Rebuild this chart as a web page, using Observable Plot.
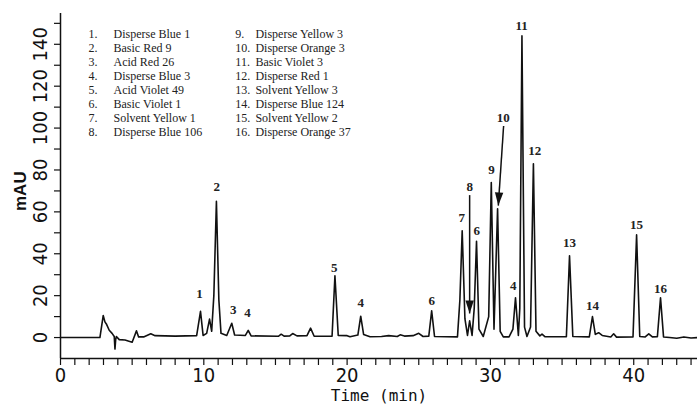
<!DOCTYPE html>
<html><head><meta charset="utf-8">
<script src="https://cdn.jsdelivr.net/npm/d3@7"></script>
<script src="https://cdn.jsdelivr.net/npm/@observablehq/plot@0.6"></script>
<style>body{margin:0;background:#fff}</style>
</head><body><div id="chart"></div>
<script>
// Chromatogram trace: time (min) and absorbance (mAU)
const traceTime = [0, 2.75, 2.98, 3.1, 3.2, 3.4, 3.6, 3.75, 3.8, 3.85, 3.9, 4.1, 4.5, 5.0, 5.3, 5.45, 5.8, 6.3, 6.6, 8.0, 9.5,
  9.77, 9.95, 10.2, 10.4, 10.55, 10.7, 10.88, 11.05, 11.2, 11.6, 11.95, 12.15, 12.9, 13.1, 13.3,
  15.2, 15.4, 15.6, 16.0, 16.2, 16.5, 17.2, 17.45, 17.7, 18.95, 19.15, 19.38, 20.0, 20.2, 20.75, 20.95, 21.15, 21.6,
  22.4, 22.9, 23.5, 23.7, 24.0, 24.6, 25.0, 25.3, 25.7, 25.9, 26.1, 27.7,
  27.87, 28.03, 28.22, 28.4, 28.55, 28.72, 28.87, 29.03, 29.2, 29.5,
  29.88, 30.06, 30.25, 30.5, 30.68, 30.9, 31.3, 31.57, 31.75, 31.95, 32.05, 32.2, 32.38, 32.55, 32.8, 33.0, 33.18, 33.45, 33.6, 33.8,
  35.3, 35.52, 35.75, 36.9, 37.12, 37.32, 37.55, 37.8, 38.4, 38.6, 38.8, 39.95, 40.2, 40.42, 40.8, 41.05, 41.3, 41.65, 41.87, 42.08,
  42.5, 43.0, 43.5, 44.0, 44.45];
const traceMAU = [0, 0, 10.5, 7.5, 6.5, 3.5, 2, 0.5, -5.5, -1, 0.5, -1, -1.2, -2.2, 3.2, 0.3, 0.3, 1.8, 0.9, 0.7, 0.9,
  12.5, 1, 2, 8.8, 3, 20, 65, 18, 2, 1, 6.8, 1.2, 1, 3.4, 0.8,
  0.6, 1.6, 0.7, 0.8, 1.9, 0.8, 0.9, 4.5, 0.6, 0.6, 29.5, 1.0, 0.9, 0.4, 1.2, 10.2, 1.5, 0.4,
  0.5, 0.9, 0.5, 1.3, 0.7, 0.9, 2, 0.5, 0.7, 12.8, 0.5, 0.3,
  18, 51, 9, 1, 8, 1, 14, 46, 4, 0.5,
  10, 74, 4, 61.5, 3, 0.3, 0.3, 4, 19, 1, 14, 144, 5, 0.5, 5, 83, 3, 0.8, 1.6, 0.4,
  0.4, 39, 0.5, 0.3, 10, 1.5, 2.3, 1, 0.3, 1.8, 0.2, 0.3, 49, 0.5, 0.3, 1.8, 0.3, 0.4, 19, 0.3,
  0, -0.3, 0.3, -0.2, 0];

// Peak numbers and where their labels sit (time, mAU)
const peakIds = ["1", "2", "3", "4", "5", "4", "6", "7", "8", "6", "9", "10", "4", "11", "12", "13", "14", "15", "16"];
const peakLabelTime = [9.7, 10.9, 12.05, 13.05, 19.1, 20.95, 25.9, 28.0, 28.55, 29.05, 30.08, 30.9, 31.6, 32.17, 33.1, 35.52, 37.12, 40.2, 41.87];
const peakLabelMAU = [21, 72, 13, 12, 33.4, 16.7, 17.7, 57, 72, 51, 80, 105, 24.8, 149, 89, 45, 15.3, 54, 23.4];

// Arrows for peaks 8 and 10 (start, tip, and head tilt in degrees)
const arrowFromTime = [28.55, 30.92];
const arrowFromMAU = [68, 101];
const arrowToTime = [28.55, 30.55];
const arrowToMAU = [11.5, 63];
const arrowTilt = [0, 3.5];

// Compound list
const legendNums = ["1.", "2.", "3.", "4.", "5.", "6.", "7.", "8.", "9.", "10.", "11.", "12.", "13.", "14.", "15.", "16."];
const legendNames = ["Disperse Blue 1", "Basic Red 9", "Acid Red 26", "Disperse Blue 3", "Acid Violet 49", "Basic Violet 1",
  "Solvent Yellow 1", "Disperse Blue 106", "Disperse Yellow 3", "Disperse Orange 3", "Basic Violet 3", "Disperse Red 1",
  "Solvent Yellow 3", "Disperse Blue 124", "Solvent Yellow 2", "Disperse Orange 37"];

// Axis ticks
const xTicks = d3.range(0, 45, 1);
const xTickLabels = [0, 10, 20, 30, 40];
const yTicks = d3.range(0, 151, 10);
const yTickLabels = [0, 20, 40, 60, 80, 100, 120, 140];

const trace = traceTime.map((t, i) => ({t, v: traceMAU[i]}));
const peaks = peakIds.map((id, i) => ({id, t: peakLabelTime[i], v: peakLabelMAU[i]}));
const arrows = arrowFromTime.map((x1, i) => ({
  x1, y1: arrowFromMAU[i], x2: arrowToTime[i], y2: arrowToMAU[i], tilt: arrowTilt[i]
}));
const legend = legendNames.map((name, i) => ({num: legendNums[i], name, col: i < 8 ? 0 : 1, row: i % 8}));
const legendTop = 144.7, legendStep = 6.69;

// filled arrowhead with its tip at the origin, pointing down
const arrowHead = {draw(ctx) { ctx.moveTo(0, 0); ctx.lineTo(-4.2, -13); ctx.lineTo(4.2, -13); ctx.closePath(); }};

const narrow = "'Liberation Sans Narrow', 'DejaVu Sans Condensed', 'Liberation Sans', sans-serif";
const serif = "'Liberation Serif', 'DejaVu Serif', serif";

const chart = Plot.plot({
  width: 697, height: 408,
  marginLeft: 60, marginRight: 0, marginTop: 13, marginBottom: 50,
  x: {domain: [0, 44.45]},
  y: {domain: [-10, 154.7]},
  style: {background: "white", color: "#111"},
  marks: [
    Plot.axisX({ticks: xTicks, tickSize: 7, tickPadding: 2, tickFormat: d => xTickLabels.includes(d) ? String(d) : "",
      label: null, fontSize: 20, fontFamily: narrow, strokeWidth: 1.2}),
    Plot.axisY({ticks: yTicks, tickSize: 6, tickPadding: 8, tickRotate: -90, tickFormat: d => yTickLabels.includes(d) ? String(d) : "",
      label: null, fontSize: 20, fontFamily: narrow, strokeWidth: 1.2}),
    Plot.ruleY([-10], {stroke: "#111", strokeWidth: 1.5}),
    Plot.ruleX([0], {y1: -10, y2: 154.7, stroke: "#111", strokeWidth: 1.5}),
    Plot.line(trace, {x: "t", y: "v", stroke: "#111", strokeWidth: 1.6}),
    Plot.text(peaks, {x: "t", y: "v", text: "id", fontSize: 13, fontWeight: "bold", fontFamily: serif, fill: "#222"}),
    Plot.link(arrows, {x1: "x1", y1: "y1", x2: "x2", y2: "y2", stroke: "#111", strokeWidth: 1.5}),
    Plot.dot(arrows, {x: "x2", y: "y2", symbol: arrowHead, fill: "#111", stroke: "none", rotate: "tilt"}),
    Plot.text(legend, {x: d => d.col ? 12.2 : 1.95, y: d => legendTop - d.row * legendStep, text: "num",
      textAnchor: "start", fontSize: 12, fontFamily: serif, fill: "#222"}),
    Plot.text(legend, {x: d => d.col ? 13.6 : 3.7, y: d => legendTop - d.row * legendStep, text: "name",
      textAnchor: "start", fontSize: 12, fontFamily: serif, fill: "#222"}),
    Plot.text(["Time (min)"], {frameAnchor: "bottom", dy: 42, fontSize: 16, fontFamily: "'DejaVu Sans Mono', monospace", fill: "#111"}),
    Plot.text(["mAU"], {frameAnchor: "left", dx: -40, dy: 25, rotate: -90, fontSize: 17, fontWeight: "bold", fontFamily: "'Liberation Sans', Arial, sans-serif", fill: "#111"})
  ]
});
document.getElementById("chart").appendChild(chart);
</script>
</body></html>
